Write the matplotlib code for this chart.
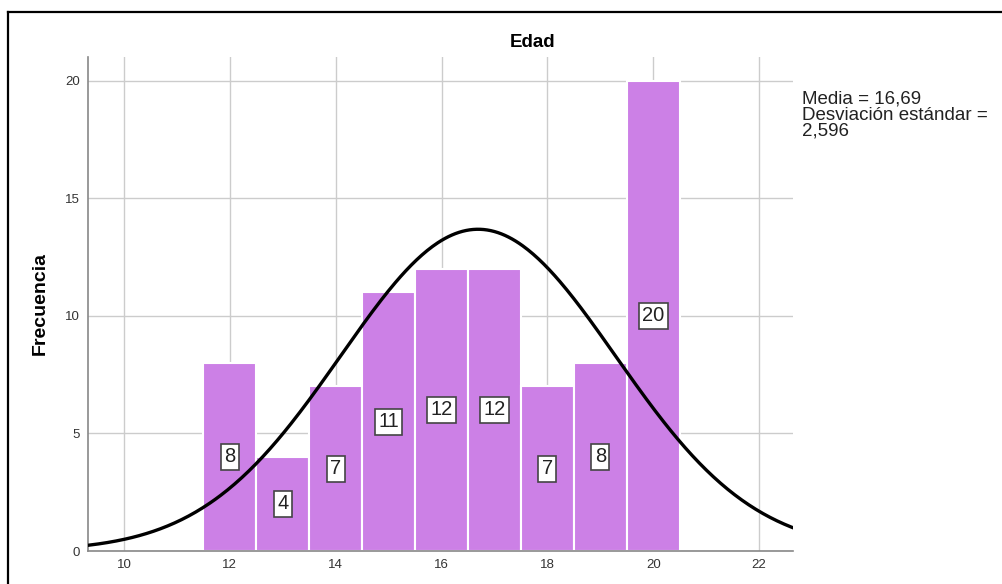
import matplotlib
matplotlib.use("Agg")
import matplotlib.pyplot as plt
import numpy as np
from matplotlib.lines import Line2D

# Age histogram (SPSS style) with fitted normal curve
EDAD = [12, 13, 14, 15, 16, 17, 18, 19, 20]
FRECUENCIA = [8, 4, 7, 11, 12, 12, 7, 8, 20]
MEDIA = 16.69
DESV = 2.596
X_TICKS = [10, 12, 14, 16, 18, 20, 22]
Y_TICKS = [0, 5, 10, 15, 20]

BAR_COLOR = "#cc80e6"
GRID_COLOR = "#cccccc"


def main():
    fig = plt.figure(figsize=(10.03, 5.84), dpi=100)
    plt.rcParams["font.family"] = ["Arial", "Liberation Sans", "DejaVu Sans"]
    ax = fig.add_axes([0.0877, 0.0565, 0.7029, 0.8459])

    ax.bar(EDAD, FRECUENCIA, width=1.0, color=BAR_COLOR, edgecolor="white",
           linewidth=1.5, zorder=2)

    for x, f in zip(EDAD, FRECUENCIA):
        ax.text(x, f / 2, str(f), ha="center", va="center", fontsize=14.5,
                color="#222222", zorder=4,
                bbox=dict(boxstyle="square,pad=0.17", fc="white",
                          ec="#444444", lw=1.2))

    n = sum(FRECUENCIA)
    xs = np.linspace(9.32, 22.64, 400)
    ys = n / (DESV * np.sqrt(2 * np.pi)) * np.exp(-0.5 * ((xs - MEDIA) / DESV) ** 2)
    ax.plot(xs, ys, color="black", lw=2.4, zorder=3)

    ax.set_xlim(9.32, 22.64)
    ax.set_ylim(0, 21.0)
    ax.set_xticks(X_TICKS)
    ax.set_yticks(Y_TICKS)
    ax.tick_params(labelsize=9.5, length=0, pad=6, colors="#333333")
    ax.grid(True, color=GRID_COLOR, lw=1.0, zorder=0)
    ax.set_axisbelow(True)
    for s in ("top", "right"):
        ax.spines[s].set_visible(False)
    for s in ("left", "bottom"):
        ax.spines[s].set_color("#888888")
        ax.spines[s].set_linewidth(1.2)

    fig.text(0.531, 0.928, "Edad", ha="center", va="center",
             fontsize=13.5, fontweight="bold")
    fig.text(0.040, 0.48, "Frecuencia", ha="center", va="center",
             rotation=90, fontsize=14, fontweight="bold")
    fig.text(0.800, 0.845, "Media = 16,69\nDesviación estándar =\n2,596",
             ha="left", va="top", fontsize=13.5, linespacing=0.93,
             color="#222222")

    # outer frame (top and left edges visible)
    fig.add_artist(Line2D([0.008, 1.0], [0.979, 0.979], color="black", lw=1.6,
                          transform=fig.transFigure))
    fig.add_artist(Line2D([0.008, 0.008], [0.0, 0.979], color="black", lw=1.6,
                          transform=fig.transFigure))

    fig.savefig("out.png", dpi=100)


if __name__ == "__main__":
    main()
